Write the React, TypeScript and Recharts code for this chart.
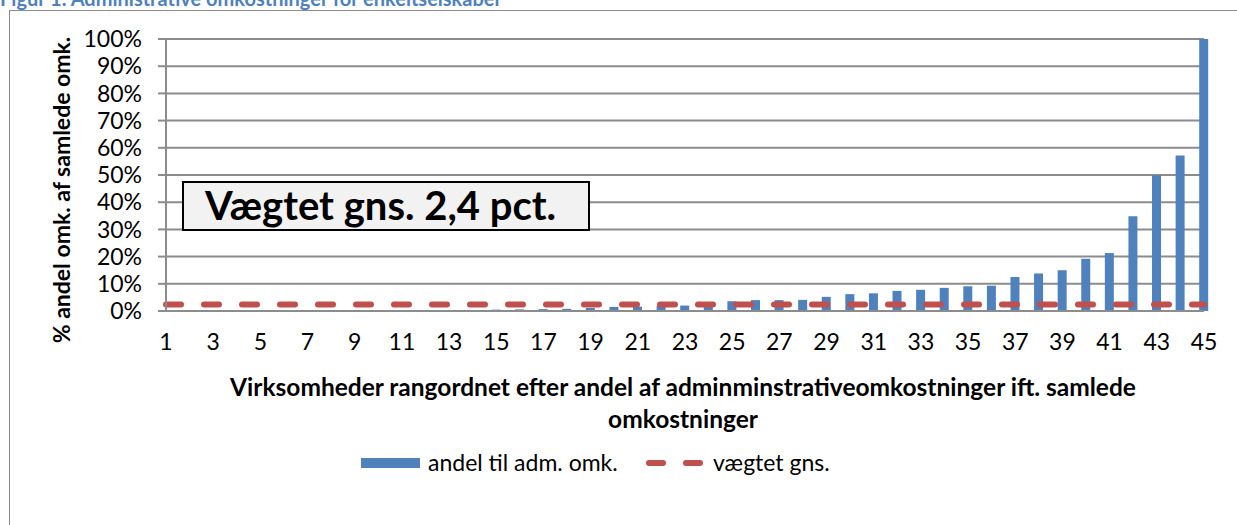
import { ComposedChart, Bar, Line, XAxis, YAxis, CartesianGrid } from 'recharts';

// virksomheder rangordnet 1..45
const ranks = [
  1, 2, 3, 4, 5, 6, 7, 8, 9, 10, 11, 12, 13, 14, 15, 16, 17, 18, 19, 20, 21, 22, 23,
  24, 25, 26, 27, 28, 29, 30, 31, 32, 33, 34, 35, 36, 37, 38, 39, 40, 41, 42, 43, 44, 45,
];

// andel til adm. omk. (pct.)
const shares = [
  0, 0, 0, 0, 0, 0.02, 0.03, 0.05, 0.08, 0.2, 0.2, 0.25, 0.3, 0.3, 0.5, 0.6, 0.7, 0.8,
  1.1, 1.5, 1.6, 1.8, 2.0, 2.5, 3.6, 4.0, 4.0, 4.1, 5.2, 6.2, 6.5, 7.4, 7.8, 8.5, 9.1,
  9.3, 12.5, 13.8, 15.0, 19.2, 21.3, 34.8, 49.9, 57.2, 100,
];

const weightedAvg = 2.4;

const xTicks = [1, 3, 5, 7, 9, 11, 13, 15, 17, 19, 21, 23, 25, 27, 29, 31, 33, 35, 37, 39, 41, 43, 45];
const yTicks = [0, 10, 20, 30, 40, 50, 60, 70, 80, 90, 100];

const data = ranks.map((r, i) => ({ rank: r, andel: shares[i], gns: weightedAvg }));

const FONT = 'Lato, "Noto Sans", sans-serif';
const BLUE = '#4F81BD';
const RED = '#C0504D';
const GRID = '#8C8C8C';

export default function App() {
  return (
    <div
      style={{
        position: 'absolute',
        left: 0,
        top: 0,
        width: 1237,
        height: 525,
        overflow: 'hidden',
        background: '#fff',
        fontFamily: FONT,
      }}
    >
      <div
        style={{
          position: 'absolute',
          left: 0,
          top: -12,
          fontSize: 20,
          lineHeight: '20px',
          fontWeight: 700,
          color: BLUE,
          whiteSpace: 'nowrap',
        }}
      >
        Figur 1. Administrative omkostninger for enkeltselskaber
      </div>
      <div
        style={{
          position: 'absolute',
          left: 9,
          top: 10,
          width: 1400,
          height: 700,
          border: `1.5px solid ${GRID}`,
        }}
      />
      <div style={{ position: 'absolute', left: 0, top: 0 }}>
        <ComposedChart width={1237} height={525} data={data} margin={{ top: 39, right: 33, bottom: 184, left: 0 }}>
          <CartesianGrid vertical={false} stroke={GRID} strokeWidth={2} />
          <XAxis
            dataKey="rank"
            type="number"
            domain={[1, 45]}
            ticks={xTicks}
            interval={0}
            height={30}
            tickSize={0}
            tickMargin={23}
            axisLine={{ stroke: GRID, strokeWidth: 2 }}
            tick={{ fontSize: 23, fill: '#000', fontFamily: FONT }}
          />
          <YAxis
            width={166}
            domain={[0, 100]}
            ticks={yTicks}
            interval={0}
            tickSize={8}
            tickMargin={16}
            tickFormatter={(v) => `${v}%`}
            axisLine={{ stroke: GRID, strokeWidth: 2 }}
            tickLine={{ stroke: GRID, strokeWidth: 2 }}
            tick={{ fontSize: 23, fill: '#000', fontFamily: FONT }}
          />
          <Bar dataKey="andel" fill={BLUE} barSize={9} isAnimationActive={false} />
          <Line
            type="linear"
            dataKey="gns"
            stroke={RED}
            strokeWidth={6}
            strokeLinecap="round"
            strokeDasharray="15 23"
            dot={false}
            activeDot={false}
            isAnimationActive={false}
          />
        </ComposedChart>
      </div>
      <svg width={1237} height={525} style={{ position: 'absolute', left: 0, top: 0, pointerEvents: 'none' }}>
        <text
          x={61}
          y={190}
          transform="rotate(-90 61 190)"
          textAnchor="middle"
          dominantBaseline="central"
          fontSize={23}
          fontWeight={700}
          fontFamily={FONT}
          fill="#000"
        >
          % andel omk. af samlede omk.
        </text>
        <text x={683} y={396} textAnchor="middle" fontSize={24.5} fontWeight={700} fontFamily={FONT} fill="#000">
          Virksomheder rangordnet efter andel af adminminstrativeomkostninger ift. samlede
        </text>
        <text x={683} y={428} textAnchor="middle" fontSize={24.5} fontWeight={700} fontFamily={FONT} fill="#000">
          omkostninger
        </text>
        <rect x={183} y={182} width={406} height={48} fill="#F2F2F2" stroke="#000" strokeWidth={2} />
        <text x={205} y={220} fontSize={40} fontWeight={700} fontFamily={FONT} fill="#000">
          Vægtet gns. 2,4 pct.
        </text>
        <rect x={361} y={458} width={59} height={10} fill={BLUE} />
        <text x={428} y={471} fontSize={23} fontFamily={FONT} fill="#000">
          andel til adm. omk.
        </text>
        <line x1={649} y1={463} x2={700} y2={463} stroke={RED} strokeWidth={6} strokeLinecap="round" strokeDasharray="14 23" />
        <text x={713} y={471} fontSize={23} fontFamily={FONT} fill="#000">
          vægtet gns.
        </text>
      </svg>
    </div>
  );
}
